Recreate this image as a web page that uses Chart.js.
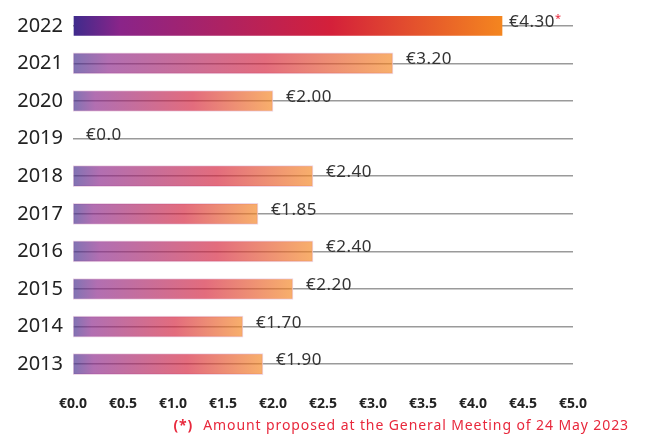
<!DOCTYPE html>
<html>
<head>
<meta charset="utf-8">
<script src="https://cdn.jsdelivr.net/npm/chart.js@4/dist/chart.umd.min.js"></script>
<style>
  html, body { margin: 0; padding: 0; background: #fff; }
  #wrap { width: 645px; height: 437px; }
</style>
</head>
<body>
<div id="wrap"><canvas id="dividendChart"></canvas></div>
<script>
// Dividend per share by year
const years = ['2022', '2021', '2020', '2019', '2018', '2017', '2016', '2015', '2014', '2013'];
const dividends = [4.30, 3.20, 2.00, 0.0, 2.40, 1.85, 2.40, 2.20, 1.70, 1.90];
const valueLabels = ['€4.30', '€3.20', '€2.00', '€0.0', '€2.40', '€1.85', '€2.40', '€2.20', '€1.70', '€1.90'];
const xTicks = [0, 0.5, 1.0, 1.5, 2.0, 2.5, 3.0, 3.5, 4.0, 4.5, 5.0];
const footnoteMark = '(*)';
const footnoteText = 'Amount proposed at the General Meeting of 24 May 2023';

// gradient along each bar, full colour for the latest year, faded for the rest
function barGradient(context) {
    const chart = context.chart;
    if (!chart.chartArea) return '#d42038';
    const x = chart.scales.x;
    const start = x.getPixelForValue(0);
    const end = Math.max(x.getPixelForValue(dividends[context.dataIndex]), start + 1);
    const a = context.dataIndex === 0 ? 1 : 0.66;
    const g = chart.ctx.createLinearGradient(start, 0, end, 0);
    g.addColorStop(0, `rgba(62,43,140,${a})`);
    g.addColorStop(0.11, `rgba(138,36,137,${a})`);
    g.addColorStop(0.6, `rgba(212,32,58,${a})`);
    g.addColorStop(1, `rgba(244,134,31,${a})`);
    return g;
}

// value labels at the end of each bar, with the red asterisk on 2022
const valueLabelPlugin = {
    id: 'valueLabels',
    afterDatasetsDraw(chart) {
        const ctx = chart.ctx;
        const meta = chart.getDatasetMeta(0);
        ctx.save();
        ctx.textBaseline = 'alphabetic';
        ctx.textAlign = 'left';
        meta.data.forEach((bar, i) => {
            const x = bar.x + (i === 0 ? 6 : 13);
            const y = bar.y + 1;
            ctx.fillStyle = '#333';
            ctx.font = '17px "Noto Sans", sans-serif';
            ctx.letterSpacing = '0.5px';
            ctx.fillText(valueLabels[i], x, y);
            if (i === 0) {
                const w = ctx.measureText(valueLabels[i]).width;
                ctx.fillStyle = '#e8283c';
                ctx.font = '11px "Noto Sans", sans-serif';
                ctx.fillText('*', x + w, y - 5);
            }
        });
        ctx.restore();
    }
};

// footnote under the axis
const footnotePlugin = {
    id: 'footnote',
    afterDraw(chart) {
        const ctx = chart.ctx;
        ctx.save();
        ctx.fillStyle = '#e8283c';
        ctx.textBaseline = 'middle';
        ctx.textAlign = 'left';
        ctx.letterSpacing = '0.9px';
        ctx.font = '14px "Noto Sans", sans-serif';
        const restW = ctx.measureText(footnoteText).width;
        const right = 629;
        ctx.fillText(footnoteText, right - restW, 426);
        ctx.font = 'bold 14px "Noto Sans", sans-serif';
        const markW = ctx.measureText(footnoteMark).width;
        ctx.fillText(footnoteMark, right - restW - 10 - markW, 426);
        ctx.restore();
    }
};

const ctx = document.getElementById('dividendChart').getContext('2d');
const dividendChart = new Chart(ctx, {
    type: 'bar',
    data: {
        labels: years,
        datasets: [{
            data: dividends,
            backgroundColor: barGradient,
            borderColor: (c) => c.dataIndex === 0 ? 'rgba(0,0,0,0)' : 'rgba(235,205,225,0.8)',
            borderWidth: 1,
            borderSkipped: false,
            barThickness: 21
        }]
    },
    options: {
        indexAxis: 'y',
        responsive: true,
        maintainAspectRatio: false,
        animation: false,
        layout: { padding: { left: 0, right: 72, top: 7, bottom: 24 } },
        plugins: {
            legend: { display: false },
            tooltip: { enabled: false }
        },
        scales: {
            x: {
                min: 0,
                max: 5,
                afterBuildTicks: (axis) => { axis.ticks = xTicks.map(v => ({ value: v })); },
                afterFit: (axis) => { axis.height = 30; axis.paddingLeft = 0; axis.paddingRight = 0; },
                grid: { display: false, drawTicks: false },
                border: { display: false },
                ticks: {
                    padding: 13,
                    color: '#222',
                    font: { family: '"Noto Sans", sans-serif', size: 14, weight: 'bold' },
                    callback: (v) => '€' + Number(v).toFixed(1)
                }
            },
            y: {
                afterFit: (axis) => { axis.width = 73; axis.paddingTop = 0; axis.paddingBottom = 0; },
                grid: { offset: false, drawTicks: false, color: '#9a9a9a', lineWidth: 1.5 },
                border: { display: false },
                ticks: {
                    padding: 10,
                    color: '#222',
                    font: { family: '"Noto Sans", sans-serif', size: 20 }
                }
            }
        }
    },
    plugins: [valueLabelPlugin, footnotePlugin]
});
</script>
</body>
</html>
